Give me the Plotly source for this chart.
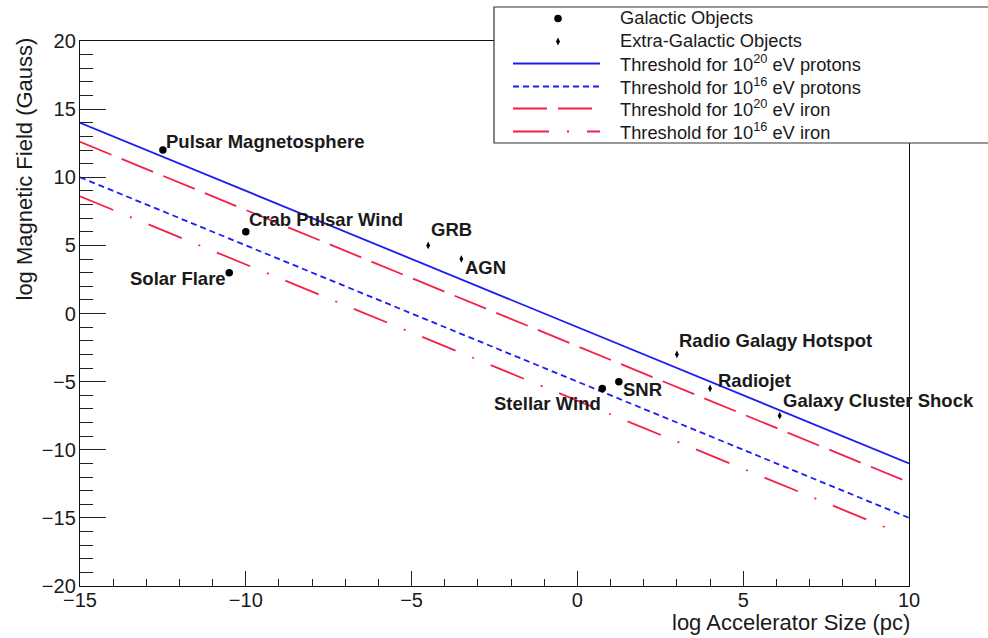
import plotly.graph_objects as go

# ---- data -------------------------------------------------------------
gal_names = ["Pulsar Magnetosphere", "Crab Pulsar Wind", "Solar Flare", "SNR", "Stellar Wind"]
gal_logsize = [-12.5, -10.0, -10.5, 1.25, 0.75]
gal_logB = [12.0, 6.0, 3.0, -5.0, -5.5]

xgal_names = ["GRB", "AGN", "Radio Galagy Hotspot", "Radiojet", "Galaxy Cluster Shock"]
xgal_logsize = [-4.5, -3.5, 3.0, 4.0, 6.1]
xgal_logB = [5.0, 4.0, -3.0, -5.5, -7.5]

line_x = [-15, 10]
p20_y = [14.0, -11.0]
p16_y = [10.0, -15.0]
fe20_y = [12.6, -12.4]
fe16_x = [-15, 9.5]
fe16_y = [8.6, -15.9]

x_ticks = [-15, -10, -5, 0, 5, 10]
y_ticks = [-20, -15, -10, -5, 0, 5, 10, 15, 20]

# ---- style ------------------------------------------------------------
FONT = "Liberation Sans, Arial, Helvetica, sans-serif"
BLUE = "#1c1cf5"
RED = "#f5204a"
W, H = 988, 638
L, R, T, B = 80, 79, 41, 52
PW, PH = W - L - R, H - T - B

STYLES = {
    "p20": dict(color=BLUE, width=1.8, dash="solid"),
    "p16": dict(color=BLUE, width=1.8, dash="6px,4px"),
    "fe20": dict(color=RED, width=1.8, dash="34px,11px"),
    "fe16": dict(color=RED, width=1.8, dash="36px,18px,2px,18px"),
}


def fx(xp):
    """pixel column -> paper x"""
    return (xp - L) / PW


def fy(yp):
    """pixel row -> paper y"""
    return (H - B - yp) / PH


fig = go.Figure()

for key, xs, ys in [("p20", line_x, p20_y), ("p16", line_x, p16_y),
                    ("fe20", line_x, fe20_y), ("fe16", fe16_x, fe16_y)]:
    fig.add_trace(go.Scatter(x=xs, y=ys, mode="lines", line=STYLES[key],
                             showlegend=False, hoverinfo="skip"))

fig.add_trace(go.Scatter(x=gal_logsize, y=gal_logB, mode="markers",
                         marker=dict(symbol="circle", size=7.5, color="black"),
                         showlegend=False))
fig.add_trace(go.Scatter(x=xgal_logsize, y=xgal_logB, mode="markers",
                         marker=dict(symbol="diamond-tall", size=5.5, color="black",
                                     line=dict(width=0)),
                         showlegend=False))

# point labels: (xanchor, xshift, yshift) relative to each marker
gal_label_pos = [("left", 1, 9), ("left", 1, 12), ("right", -1, -6),
                 ("left", 2, -8), ("right", 1, -15)]
xgal_label_pos = [("left", 1, 16), ("left", 2, -8), ("left", 0, 14),
                  ("left", 6, 8), ("left", 1, 15)]

annotations = []
for names, xs, ys, pos in [(gal_names, gal_logsize, gal_logB, gal_label_pos),
                           (xgal_names, xgal_logsize, xgal_logB, xgal_label_pos)]:
    for n, x, y, (xa, dx, dy) in zip(names, xs, ys, pos):
        annotations.append(dict(x=x, y=y, xref="x", yref="y", text="<b>%s</b>" % n,
                                showarrow=False, xanchor=xa, yanchor="middle",
                                xshift=dx, yshift=dy,
                                font=dict(family=FONT, size=18.5, color="#1a1a1a")))

# axis titles
annotations.append(dict(x=1, y=fy(622), xref="paper", yref="paper",
                        text="log Accelerator Size (pc)", showarrow=False,
                        xanchor="right", yanchor="middle", xshift=3,
                        font=dict(family=FONT, size=22, color="#1a1a1a")))
annotations.append(dict(x=fx(24), y=fy(36), xref="paper", yref="paper",
                        text="log Magnetic Field (Gauss)", showarrow=False,
                        textangle=-90, xanchor="center", yanchor="top",
                        font=dict(family=FONT, size=22, color="#1a1a1a")))

# ---- legend box ---------------------------------------------------------
shapes = [dict(type="rect", xref="paper", yref="paper",
               x0=fx(494), x1=fx(1000), y0=fy(143), y1=fy(7),
               line=dict(color="#333333", width=1.2), fillcolor="white", layer="above")]

leg_text = ["Galactic Objects", "Extra-Galactic Objects",
            "Threshold for 10<sup>20</sup> eV protons",
            "Threshold for 10<sup>16</sup> eV protons",
            "Threshold for 10<sup>20</sup> eV iron",
            "Threshold for 10<sup>16</sup> eV iron"]
leg_rows = [17, 40, 63, 86, 108, 131]

for txt, row in zip(leg_text, leg_rows):
    annotations.append(dict(x=fx(618), y=fy(row), xref="paper", yref="paper",
                            text=txt, showarrow=False, xanchor="left", yanchor="middle",
                            font=dict(family=FONT, size=18.3, color="#1a1a1a")))

# legend symbols
shapes.append(dict(type="circle", xref="paper", yref="paper",
                   xsizemode="pixel", ysizemode="pixel",
                   xanchor=fx(558), yanchor=fy(18.5),
                   x0=-3.8, x1=3.8, y0=-3.8, y1=3.8,
                   fillcolor="black", line=dict(width=0), layer="above"))
shapes.append(dict(type="path", xref="paper", yref="paper",
                   xsizemode="pixel", ysizemode="pixel",
                   xanchor=fx(558), yanchor=fy(41.5),
                   path="M -2 0 L 0 4 L 2 0 L 0 -4 Z",
                   fillcolor="black", line=dict(width=0), layer="above"))
for key, row in zip(["p20", "p16", "fe20", "fe16"], leg_rows[2:]):
    st = STYLES[key]
    shapes.append(dict(type="line", xref="paper", yref="paper",
                       x0=fx(513), x1=fx(600), y0=fy(row + 0.5), y1=fy(row + 0.5),
                       line=dict(color=st["color"], width=st["width"], dash=st["dash"]),
                       layer="above"))

axis_common = dict(showgrid=False, zeroline=False, showline=True, mirror=True,
                   linecolor="#111111", linewidth=1.4, ticks="inside",
                   tickcolor="#222222", tickwidth=1.2,
                   tickfont=dict(family=FONT, size=20, color="#1a1a1a"))

fig.update_layout(
    width=W, height=H,
    margin=dict(l=L, r=R, t=T, b=B, pad=0),
    paper_bgcolor="white", plot_bgcolor="white",
    showlegend=False,
    xaxis=dict(range=[-15, 10], tickvals=x_ticks, ticklen=15,
               minor=dict(dtick=1, tick0=0, ticks="inside", ticklen=7,
                          tickcolor="#222222", tickwidth=1.2),
               ticklabelstandoff=-4, **axis_common),
    yaxis=dict(range=[-20, 20], tickvals=y_ticks, ticklen=26,
               minor=dict(dtick=1, tick0=0, ticks="inside", ticklen=13,
                          tickcolor="#222222", tickwidth=1.2),
               ticklabelstandoff=-1, **axis_common),
    annotations=annotations,
    shapes=shapes,
)

fig.write_html("out.html")
